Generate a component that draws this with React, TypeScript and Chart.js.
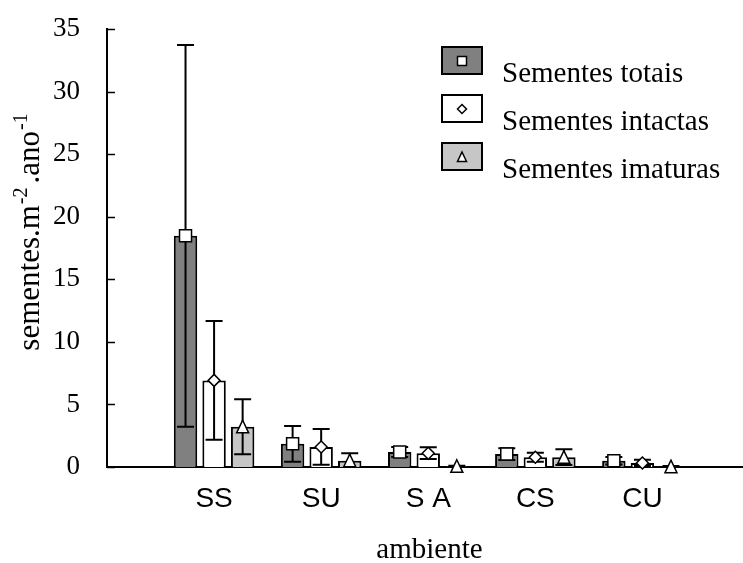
import React, { useEffect, useRef } from 'react';
import { Chart, registerables } from 'chart.js';

Chart.register(...registerables);

const categories = ['SS', 'SU', 'S A', 'CS', 'CU'];
const seriesNames = ['Sementes totais', 'Sementes intactas', 'Sementes imaturas'];
const totais = [18.47, 1.85, 1.2, 1.03, 0.5];
const totaisErr = [15.25, 1.43, 0.4, 0.47, 0.3];
const intactas = [6.92, 1.6, 1.1, 0.78, 0.32];
const intactasErr = [4.75, 1.43, 0.47, 0.36, 0.25];
const imaturas = [3.21, 0.5, 0.05, 0.78, 0.02];
const imaturasErr = [2.2, 0.6, 0.05, 0.63, 0.05];
const yTicks = [0, 5, 10, 15, 20, 25, 30, 35];

const SERIF = '"Liberation Serif", "Times New Roman", serif';
const SANS = '"Liberation Sans", Arial, sans-serif';

const fills = ['#808080', '#ffffff', '#c6c6c6'];
const markers = ['square', 'diamond', 'triangle'];
const errors = [totaisErr, intactasErr, imaturasErr];

function drawMarker(ctx: CanvasRenderingContext2D, kind: string, x: number, y: number, s: number) {
  ctx.save();
  ctx.fillStyle = '#ffffff';
  ctx.strokeStyle = '#000000';
  ctx.lineWidth = 1.5;
  ctx.beginPath();
  if (kind === 'square') {
    ctx.rect(x - s / 2, y - s / 2, s, s);
  } else if (kind === 'diamond') {
    ctx.moveTo(x, y - s / 2);
    ctx.lineTo(x + s / 2, y);
    ctx.lineTo(x, y + s / 2);
    ctx.lineTo(x - s / 2, y);
    ctx.closePath();
  } else {
    ctx.moveTo(x, y - s * 0.55);
    ctx.lineTo(x + s / 2, y + s * 0.5);
    ctx.lineTo(x - s / 2, y + s * 0.5);
    ctx.closePath();
  }
  ctx.fill();
  ctx.stroke();
  ctx.restore();
}

const decorPlugin = {
  id: 'decor',
  afterDatasetsDraw(chart: any) {
    const ctx = chart.ctx as CanvasRenderingContext2D;
    const area = chart.chartArea;
    const yScale = chart.scales.y;
    // error bars
    ctx.save();
    ctx.beginPath();
    ctx.rect(area.left, area.top - 2, area.right - area.left, area.bottom - area.top + 2);
    ctx.clip();
    ctx.strokeStyle = '#000';
    ctx.lineWidth = 2;
    chart.data.datasets.forEach((ds: any, di: number) => {
      const meta = chart.getDatasetMeta(di);
      meta.data.forEach((el: any, i: number) => {
        const v = ds.data[i].y;
        const e = errors[di][i];
        const yt = yScale.getPixelForValue(v + e);
        const yb = yScale.getPixelForValue(v - e);
        const cap = 8.5;
        ctx.beginPath();
        ctx.moveTo(el.x, yt);
        ctx.lineTo(el.x, yb);
        ctx.moveTo(el.x - cap, yt);
        ctx.lineTo(el.x + cap, yt);
        ctx.moveTo(el.x - cap, yb);
        ctx.lineTo(el.x + cap, yb);
        ctx.stroke();
      });
    });
    ctx.restore();
    // markers
    chart.data.datasets.forEach((ds: any, di: number) => {
      const meta = chart.getDatasetMeta(di);
      meta.data.forEach((el: any) => {
        drawMarker(ctx, markers[di], el.x, el.y, 12);
      });
    });
  },
  afterDraw(chart: any) {
    const ctx = chart.ctx as CanvasRenderingContext2D;
    const area = chart.chartArea;
    const yScale = chart.scales.y;
    // inward y ticks
    ctx.save();
    ctx.strokeStyle = '#000';
    ctx.lineWidth = 1.5;
    yTicks.forEach((t) => {
      const py = Math.round(yScale.getPixelForValue(t)) + 0.5;
      ctx.beginPath();
      ctx.moveTo(area.left, py);
      ctx.lineTo(area.left + 8, py);
      ctx.stroke();
    });
    ctx.restore();

    // y title with superscripts
    ctx.save();
    ctx.fillStyle = '#000';
    ctx.translate(39, 232);
    ctx.rotate(-Math.PI / 2);
    ctx.textBaseline = 'alphabetic';
    const parts = [
      { t: 'sementes.m', sup: false, gap: 1 },
      { t: '-2', sup: true, gap: 4 },
      { t: '.ano', sup: false, gap: 1 },
      { t: '-1', sup: true, gap: 0 },
    ];
    const mainFont = '31px ' + SERIF;
    const supFont = '20px ' + SERIF;
    let total = 0;
    parts.forEach((p) => {
      ctx.font = p.sup ? supFont : mainFont;
      total += ctx.measureText(p.t).width + p.gap;
    });
    let x = -total / 2;
    parts.forEach((p) => {
      ctx.font = p.sup ? supFont : mainFont;
      ctx.fillText(p.t, x, p.sup ? -12 : 0);
      x += ctx.measureText(p.t).width + p.gap;
    });
    ctx.restore();

    // x title
    ctx.save();
    ctx.fillStyle = '#000';
    ctx.font = '29px ' + SERIF;
    ctx.textAlign = 'center';
    ctx.textBaseline = 'alphabetic';
    ctx.fillText('ambiente', 429.5, 558);
    ctx.restore();

    // legend
    ctx.save();
    seriesNames.forEach((name, i) => {
      const bx = 442;
      const by = 47 + i * 48;
      ctx.fillStyle = fills[i];
      ctx.fillRect(bx, by, 40, 27);
      ctx.strokeStyle = '#000';
      ctx.lineWidth = 2;
      ctx.strokeRect(bx, by, 40, 27);
      drawMarker(ctx, markers[i], bx + 20, by + 14, 9);
      ctx.fillStyle = '#000';
      ctx.font = '29px ' + SERIF;
      ctx.textAlign = 'left';
      ctx.textBaseline = 'alphabetic';
      ctx.fillText(name, 502, 82 + i * 48);
    });
    ctx.restore();
  },
};

export default function App() {
  const ref = useRef<HTMLCanvasElement | null>(null);
  useEffect(() => {
    if (!ref.current) return;
    const series = [totais, intactas, imaturas];
    const chart = new Chart(ref.current, {
      type: 'bar',
      data: {
        datasets: series.map((vals, di) => ({
          label: seriesNames[di],
          data: vals.map((v, i) => ({ x: i, y: v })),
          backgroundColor: fills[di],
          borderColor: '#000',
          borderWidth: 2,
          categoryPercentage: 0.8,
          barPercentage: 0.82,
        })),
      },
      options: {
        animation: false,
        responsive: false,
        layout: { padding: { top: 29, right: 1, left: 0, bottom: 0 } },
        plugins: { legend: { display: false }, tooltip: { enabled: false }, title: { display: false } },
        scales: {
          x: {
            type: 'linear',
            offset: false,
            min: -1,
            max: 4.93,
            afterBuildTicks: (axis: any) => {
              axis.ticks = categories.map((_, i) => ({ value: i }));
            },
            afterFit: (axis: any) => {
              axis.height = 96;
              axis.paddingLeft = 0;
              axis.paddingRight = 0;
            },
            grid: { display: false, drawTicks: false, offset: false },
            border: { display: true, color: '#000', width: 2 },
            ticks: {
              autoSkip: false,
              maxRotation: 0,
              padding: 15,
              color: '#000',
              font: { family: SANS, size: 28 },
              callback: (v: any) => categories[v] ?? '',
            },
          },
          y: {
            type: 'linear',
            min: 0,
            max: 35,
            afterBuildTicks: (axis: any) => {
              axis.ticks = yTicks.map((v) => ({ value: v }));
            },
            afterFit: (axis: any) => {
              axis.width = 107;
              axis.paddingTop = 0;
              axis.paddingBottom = 0;
            },
            grid: { display: false, drawTicks: false },
            border: { display: true, color: '#000', width: 2 },
            ticks: {
              padding: 27,
              color: '#000',
              font: { family: SERIF, size: 27 },
            },
          },
        },
      },
      plugins: [decorPlugin],
    } as any);
    return () => chart.destroy();
  }, []);
  return (
    <div style={{ position: 'absolute', left: 0, top: 0, width: 743, height: 563, background: '#fff' }}>
      <canvas ref={ref} width={743} height={563} style={{ display: 'block' }} />
    </div>
  );
}
